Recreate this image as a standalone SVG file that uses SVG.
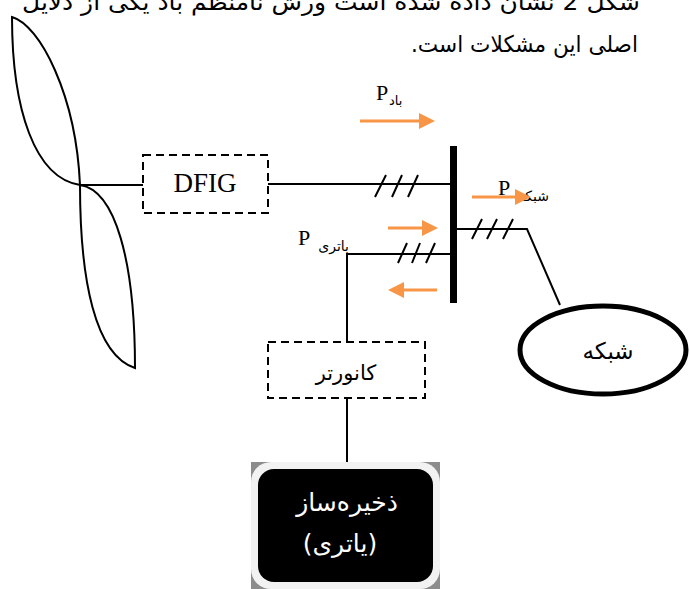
<svg xmlns="http://www.w3.org/2000/svg" width="690" height="589" viewBox="0 0 690 589">
  <style>
    .ln { fill: none; stroke: #000; stroke-width: 2; }
    .dash { fill: #fff; stroke: #000; stroke-width: 2; stroke-dasharray: 8 5; }
    .flow { fill: none; stroke: #F79646; stroke-width: 3; marker-end: url(#head); }
    .fa { font-family: "DejaVu Sans", "Noto Sans", sans-serif; fill: #000; }
    .sr { font-family: "Liberation Serif", "Times New Roman", serif; fill: #000; }
    .wt { fill: #fff; }
  </style>
  <defs>
    <marker id="head" markerUnits="userSpaceOnUse" markerWidth="16" markerHeight="16" refX="1" refY="8" orient="auto">
      <path d="M0,0 L16,8 L0,16 Z" fill="#F79646"/>
    </marker>
  </defs>
  <rect width="690" height="589" fill="#fff"/>

  <!-- paragraph text above the figure -->
  <g id="caption">
    <text class="fa" x="22" y="10" font-size="23" textLength="618" lengthAdjust="spacingAndGlyphs">شکل 2 نشان داده شده است ورش نامنظم باد یکی از دلایل</text>
    <text class="fa" x="411" y="52" font-size="23" textLength="227" lengthAdjust="spacingAndGlyphs">&#x200F;اصلی این مشکلات است.&#x200F;</text>
  </g>

  <!-- connectors -->
  <g id="connectors">
    <path class="ln" d="M80,185 H143"/>
    <path class="ln" d="M268,184 H452"/>
    <path class="ln" d="M457,229 H527 L560,305"/>
    <path class="ln" d="M452,254 H347 V342"/>
    <path class="ln" d="M347,398 V462"/>
    <!-- three-phase hash marks -->
    <path class="ln" d="M375,197 L386,175 M392,197 L402,175 M408,197 L418,175"/>
    <path class="ln" d="M472,239 L482,219 M487,239 L497,219 M503,239 L513,219"/>
    <path class="ln" d="M398,263 L407,243 M412,263 L420,243 M426,263 L435,243"/>
  </g>

  <!-- wind turbine rotor -->
  <g id="turbine">
    <path class="ln" d="M12,17 C40,25 76,95 80,185 C35,178 12,110 12,17 Z"/>
    <path class="ln" d="M80,185 C115,190 135,260 135,368 C95,355 80,280 80,185 Z"/>
  </g>

  <g id="dfig">
    <rect class="dash" x="143" y="155" width="125" height="58"/>
    <text class="sr" x="205" y="192" font-size="27" text-anchor="middle">DFIG</text>
  </g>

  <g id="bus">
    <rect x="450" y="146" width="7" height="157" fill="#000"/>
  </g>

  <g id="grid">
    <ellipse cx="603" cy="350" rx="83" ry="44" fill="#fff" stroke="#000" stroke-width="5"/>
    <text class="fa" x="608" y="359" font-size="23" text-anchor="middle">شبکه</text>
  </g>

  <g id="converter">
    <rect class="dash" x="268" y="342" width="157" height="56"/>
    <text class="fa" x="346" y="380" font-size="21" text-anchor="middle">کانورتر</text>
  </g>

  <g id="battery">
    <rect x="251" y="462" width="189" height="127" fill="#8c8c8c"/>
    <rect x="251" y="462" width="189" height="127" rx="20" fill="#f2f2f2"/>
    <rect x="258" y="469" width="175" height="113" rx="16" fill="#000"/>
    <text class="fa wt" x="347" y="511" font-size="25" text-anchor="middle">ذخیره‌ساز</text>
    <text class="fa wt" x="340" y="552" font-size="25" text-anchor="middle">(یاتری)</text>
  </g>

  <!-- power flow labels and arrows -->
  <g id="flows">
    <text class="sr" x="376" y="100" font-size="22">P</text>
    <text class="fa" x="389" y="105" font-size="13">باد</text>
    <path class="flow" d="M360,121 H420"/>

    <text class="sr" x="498" y="195" font-size="22">P</text>
    <text class="fa" x="549" y="201" font-size="14" text-anchor="end">شبکه</text>
    <path class="flow" d="M472,197 H516"/>

    <text class="sr" x="298" y="245" font-size="22">P</text>
    <text class="fa" x="349" y="251" font-size="14" text-anchor="end">باتری</text>
    <path class="flow" d="M388,228 H423"/>
    <path class="flow" d="M437,290 H403"/>
  </g>
</svg>
